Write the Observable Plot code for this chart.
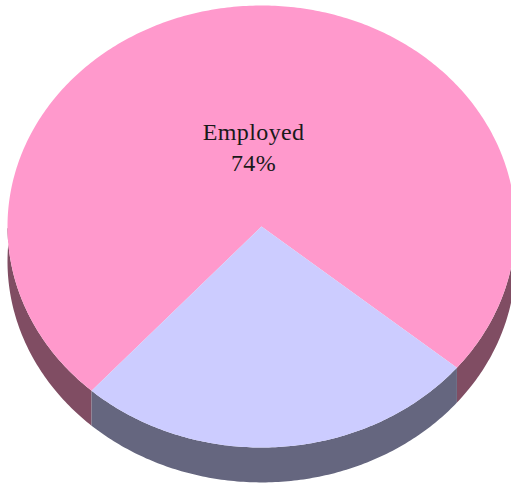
<!DOCTYPE html>
<html>
<head>
<meta charset="utf-8">
<script src="https://cdn.jsdelivr.net/npm/d3@7"></script>
<script src="https://cdn.jsdelivr.net/npm/@observablehq/plot@0.6"></script>
<style>html,body{margin:0;padding:0;background:#fff}svg{display:block}</style>
</head>
<body>
<div id="chart"></div>
<script>
const categories = ["Employed", "Unemployed"];
const shares = [74.36, 25.64];
const topColors = ["#ff99cc", "#ccccff"];
const sideColors = ["#804d63", "#65667f"];
const labelShown = [true, false];

const startDeg = 222;
const depth = 0.158;
const inset = 0.99;
const radiansPerShare = (2 * Math.PI) / d3.sum(shares);
const start = (startDeg * Math.PI) / 180;

let cursor = start;
const slices = categories.map((name, i) => {
  const a0 = cursor;
  const a1 = (cursor += shares[i] * radiansPerShare);
  const n = Math.ceil(shares[i] * 5);
  const arc = d3.range(n + 1).map((k) => {
    const a = a0 + ((a1 - a0) * k) / n;
    return {x: Math.sin(a), y: Math.cos(a)};
  });
  return {name, i, a0, a1, arc};
});

const topRows = slices.flatMap((s) =>
  [{x: 0, y: 0}, ...s.arc, {x: 0, y: 0}].map((p) => ({...p, name: s.name, color: topColors[s.i]}))
);
const sideRows = slices.flatMap((s) =>
  [
    ...s.arc.map((p) => (p.y >= 0 ? {x: p.x * inset, y: p.y * inset} : p)),
    ...s.arc.slice().reverse().map((p) => ({x: p.x, y: p.y - depth}))
  ].map((p) => ({...p, name: s.name, color: sideColors[s.i]}))
);
const labels = slices.filter((s) => labelShown[s.i]).map((s) => {
  const mid = (s.a0 + s.a1) / 2;
  return {
    x: 0.35 * Math.sin(mid),
    y: 0.35 * Math.cos(mid),
    text: `${s.name}\n${Math.round(shares[s.i])}%`
  };
});

const plot = Plot.plot({
  width: 511,
  height: 485,
  margin: 0,
  axis: null,
  style: {letterSpacing: "0.4px"},
  x: {domain: [-1, 1], range: [7, 515]},
  y: {domain: [1, -1], range: [5, 447]},
  marks: [
    Plot.line(sideRows, {x: "x", y: "y", z: "name", fill: "color", stroke: "none", curve: "linear"}),
    Plot.line(topRows, {x: "x", y: "y", z: "name", fill: "color", stroke: "none", curve: "linear"}),
    Plot.text(labels, {
      x: "x", y: "y", text: "text", dx: -1.5, dy: -3.5,
      fontFamily: "Liberation Serif", fontSize: 24, lineHeight: 1.29,
      fill: "#1a1a1a", lineAnchor: "middle", textAnchor: "middle"
    })
  ]
});
document.getElementById("chart").appendChild(plot);
</script>
</body>
</html>
